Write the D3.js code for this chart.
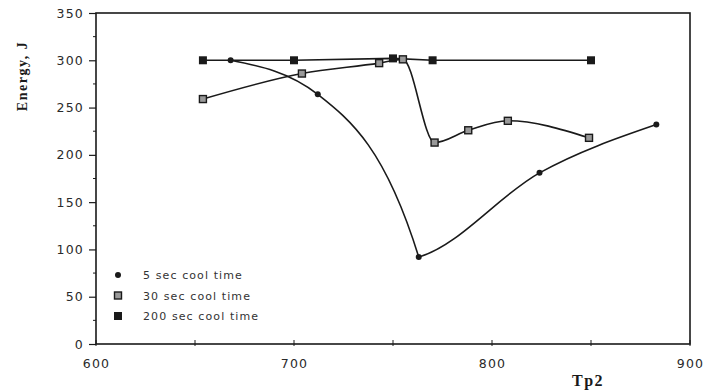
<!DOCTYPE html>
<html>
<head>
<meta charset="utf-8">
<script src="https://cdn.jsdelivr.net/npm/d3@7"></script>
<style>
  body { margin: 0; background: #fff; }
  svg { display: block; }
</style>
</head>
<body>
<div id="chart"></div>
<script>
// Tp2 vs energy, three cool times
var cool5 = [[668, 300], [712, 264], [763, 92], [824, 181], [883, 232]];
var cool30 = [[654, 259], [704, 286], [743, 297], [755, 301], [771, 213], [788, 226], [808, 236], [849, 218]];
var cool200 = [[654, 300], [700, 300], [750, 302], [770, 300], [850, 300]];
var seriesNames = ["5 sec cool time", "30 sec cool time", "200 sec cool time"];
var xTicks = [600, 700, 800, 900];
var yTicks = [0, 50, 100, 150, 200, 250, 300, 350];

(function () {
    var W = 707, H = 392;
    var svg = d3.select("#chart").append("svg")
        .attr("width", W)
        .attr("height", H);

    var x = d3.scaleLinear().domain([600, 900]).range([96, 690]),
        y = d3.scaleLinear().domain([0, 350]).range([344, 13]);

    var ink = "#1a1a1a";

    // frame
    svg.append("rect")
        .attr("x", x(600)).attr("y", y(350))
        .attr("width", x(900) - x(600)).attr("height", y(0) - y(350))
        .attr("fill", "none").attr("stroke", ink).attr("stroke-width", 1.6);

    // y axis
    var gy = svg.append("g")
        .attr("transform", "translate(" + x(600) + ",0)")
        .call(d3.axisLeft(y).tickValues(yTicks).tickSize(7).tickPadding(5).tickFormat(d3.format("d")));
    gy.select(".domain").remove();
    gy.selectAll("line").attr("stroke", ink).attr("stroke-width", 1.2);
    gy.selectAll("text")
        .style("font-family", "DejaVu Sans, sans-serif")
        .style("font-size", "12.5px")
        .style("letter-spacing", "1.2px")
        .attr("fill", "#2a2a2a");
    // minor ticks
    svg.append("g").selectAll("line")
        .data(d3.range(25, 350, 50))
        .enter().append("line")
        .attr("x1", x(600) - 3).attr("x2", x(600))
        .attr("y1", d => y(d)).attr("y2", d => y(d))
        .attr("stroke", ink).attr("stroke-width", 1);

    // x axis
    var gx = svg.append("g")
        .attr("transform", "translate(0," + y(0) + ")")
        .call(d3.axisBottom(x).tickValues(xTicks).tickSize(0).tickPadding(15).tickFormat(d3.format("d")));
    gx.select(".domain").remove();
    gx.selectAll("text")
        .style("font-family", "DejaVu Sans, sans-serif")
        .style("font-size", "12.5px")
        .style("letter-spacing", "1.2px")
        .attr("fill", "#2a2a2a");
    svg.append("g").selectAll("line")
        .data(d3.range(600, 901, 50))
        .enter().append("line")
        .attr("x1", d => x(d)).attr("x2", d => x(d))
        .attr("y1", y(0) - 4).attr("y2", y(0) + 2)
        .attr("stroke", ink).attr("stroke-width", 1);

    // axis titles
    svg.append("text")
        .attr("transform", "translate(27,76) rotate(-90)")
        .attr("text-anchor", "middle")
        .style("font-family", "Liberation Serif, serif")
        .style("font-weight", "bold")
        .style("font-size", "14px")
        .style("letter-spacing", "1.5px")
        .attr("fill", ink)
        .text("Energy, J");

    svg.append("text")
        .attr("x", 572).attr("y", 386)
        .style("font-family", "Liberation Serif, serif")
        .style("font-weight", "bold")
        .style("font-size", "16px")
        .style("letter-spacing", "1.5px")
        .attr("fill", ink)
        .text("Tp2");

    // smooth curve through the points (monotone tangents);
    // kink > 0 lets the steep side of a turning point come in sharply
    function smooth(data, kink) {
        var p = data.map(d => [x(d[0]), y(d[1])]), n = p.length;
        var h = [], s = [];
        for (var i = 0; i < n - 1; i++) {
            h[i] = p[i + 1][0] - p[i][0];
            s[i] = (p[i + 1][1] - p[i][1]) / h[i];
        }
        var mL = [], mR = [];
        for (i = 1; i < n - 1; i++) {
            var a = s[i - 1], b = s[i];
            if (a * b <= 0) {
                if (kink && Math.abs(a) > Math.abs(b)) { mL[i] = a * kink; mR[i] = b * 0.4; }
                else if (kink && Math.abs(b) > Math.abs(a)) { mL[i] = a * 0.4; mR[i] = b * kink; }
                else { mL[i] = mR[i] = 0; }
            } else {
                var q = (a * h[i] + b * h[i - 1]) / (h[i - 1] + h[i]);
                var m = (Math.sign(a) + Math.sign(b)) * Math.min(Math.abs(a), Math.abs(b), 0.5 * Math.abs(q));
                mL[i] = mR[i] = m;
            }
        }
        mR[0] = n > 2 ? (3 * s[0] - mL[1]) / 2 : s[0];
        mL[n - 1] = n > 2 ? (3 * s[n - 2] - mR[n - 2]) / 2 : s[n - 2];
        var path = d3.path();
        path.moveTo(p[0][0], p[0][1]);
        for (i = 0; i < n - 1; i++) {
            var dx = h[i] / 3;
            path.bezierCurveTo(p[i][0] + dx, p[i][1] + mR[i] * dx,
                p[i + 1][0] - dx, p[i + 1][1] - mL[i + 1] * dx,
                p[i + 1][0], p[i + 1][1]);
        }
        return path.toString();
    }
    var straight = d3.line()
        .x(d => x(d[0]))
        .y(d => y(d[1]));

    [smooth(cool5, 2), smooth(cool30, 0), straight(cool200)].forEach(function (d) {
        svg.append("path")
            .attr("d", d)
            .attr("fill", "none")
            .attr("stroke", ink)
            .attr("stroke-width", 1.6);
    });

    // markers
    function circle(g, cx, cy) {
        g.append("circle").attr("cx", cx).attr("cy", cy).attr("r", 3)
            .attr("fill", ink);
    }
    function openSq(g, cx, cy) {
        g.append("rect").attr("x", cx - 3.5).attr("y", cy - 3.5)
            .attr("width", 7).attr("height", 7)
            .attr("fill", "#999").attr("stroke", ink).attr("stroke-width", 1.4);
    }
    function fillSq(g, cx, cy) {
        g.append("rect").attr("x", cx - 4).attr("y", cy - 4)
            .attr("width", 8).attr("height", 8)
            .attr("fill", ink);
    }
    var marks = svg.append("g");
    cool5.forEach(d => circle(marks, x(d[0]), y(d[1])));
    cool30.forEach(d => openSq(marks, x(d[0]), y(d[1])));
    cool200.forEach(d => fillSq(marks, x(d[0]), y(d[1])));

    // legend
    var makers = [circle, openSq, fillSq];
    var leg = svg.append("g");
    seriesNames.forEach(function (name, i) {
        var ly = 275 + i * 20.5;
        makers[i](leg, 118, ly);
        leg.append("text")
            .attr("x", 143).attr("y", ly + 4)
            .style("font-family", "DejaVu Sans, sans-serif")
            .style("font-size", "11px")
            .style("letter-spacing", "1.1px")
            .attr("fill", "#333")
            .text(name);
    });
})();
</script>
</body>
</html>
